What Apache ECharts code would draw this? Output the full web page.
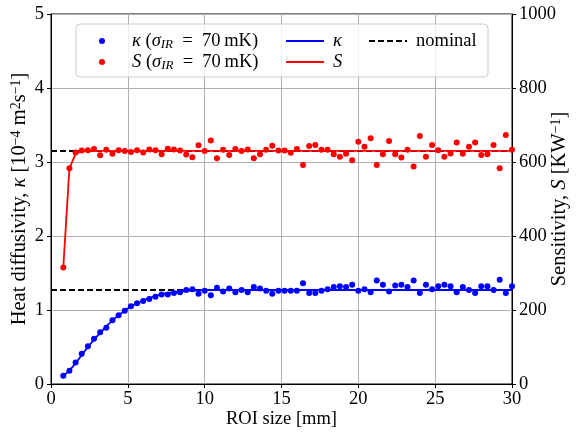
<!DOCTYPE html>
<html lang="en">
<head>
    <meta charset="UTF-8">
    <title>ROI size</title>
    <script src="https://cdn.jsdelivr.net/npm/echarts@6/dist/echarts.min.js"></script>
</head>
<body style="margin:0">
<div id="main" style="width:583px;height:433px;"></div>
<script>
    // ROI size [mm]
    var roiSize = [0.8,1.2,1.6,2.0,2.4,2.8,3.2,3.6,4.0,4.4,4.8,5.2,5.6,6.0,6.4,6.8,7.2,7.6,8.0,8.4,8.8,9.2,
        9.6,10.0,10.4,10.8,11.2,11.6,12.0,12.4,12.8,13.2,13.6,14.0,14.4,14.8,15.2,15.6,16.0,16.4,16.8,17.2,17.6,18.0,18.4,18.8,19.2,19.6,20.0,
        20.4,20.8,21.2,21.6,22.0,22.4,22.8,23.2,23.6,24.0,24.4,24.8,25.2,25.6,26.0,26.4,26.8,27.2,27.6,28.0,28.4,28.8,29.2,29.6,30.0];

    // kappa [1e-4 m2/s], measured points
    var kappaPts = [0.11,0.18,0.29,0.41,0.51,0.61,0.70,0.76,0.86,0.93,0.99,1.05,1.09,1.12,1.15,1.18,1.21,1.21,1.23,1.24,1.27,1.28,
        1.22,1.26,1.20,1.30,1.25,1.29,1.24,1.27,1.24,1.31,1.29,1.26,1.22,1.26,1.26,1.26,1.26,1.36,1.23,1.23,1.26,1.28,1.31,1.32,1.31,1.34,1.26,
        1.28,1.24,1.40,1.34,1.25,1.33,1.34,1.31,1.40,1.23,1.34,1.28,1.32,1.34,1.32,1.24,1.31,1.27,1.23,1.32,1.32,1.27,1.41,1.23,1.32];

    // sensitivity S [K/W], measured points
    var sensPts = [315,583,626,631,632,635,618,633,622,632,630,627,632,626,634,632,621,636,634,631,620,613,645,
        630,658,610,633,619,635,630,634,610,621,633,644,631,631,625,635,592,643,646,633,633,621,614,622,605,655,
        641,664,592,621,657,621,612,633,588,670,614,646,632,614,623,653,622,641,653,619,621,646,583,673,633];

    // fitted curves
    var kappaFitX = [0.8,1.2,1.6,2.0,2.4,2.8,3.2,3.6,4.0,4.4,4.8,5.2,5.6,6.0,6.4,6.8,7.2,7.6,8.0,8.4,8.8,9.6,10.4,30];
    var kappaFitY = [0.11,0.18,0.28,0.39,0.50,0.60,0.69,0.78,0.86,0.93,0.99,1.05,1.09,1.13,1.16,1.19,1.21,1.23,1.24,1.25,1.26,1.265,1.27,1.27];
    var sensFitX = [0.8,1.2,1.6,2.0,30];
    var sensFitY = [315,583,622,630,630];

    // nominal values
    var nominalX = [0, 30];
    var kappaNominal = 1.27;
    var sensNominal = 630;

    var xTicks = [0,5,10,15,20,25,30];

    function pairs(xs, ys) {
        var out = [];
        for (var i = 0; i < xs.length; i++) out.push([xs[i], ys[i]]);
        return out;
    }

    var font = 'Liberation Serif';
    var fs = 18.5;
    var nameFs = 20.5;

    var legendText = {
        kdot: '{i|κ} ({i|σ}{sub|IR}\u2002=\u200270\u2009mK)',
        sdot: '{i|S} ({i|σ}{sub|IR}\u2002=\u200270\u2009mK)',
        kfit: '{i|κ}',
        sfit: '{i|S}',
        nominal: 'nominal'
    };
    function legendStyle(padLeft) {
        return {
            fontFamily: font, fontSize: fs, color: '#000', lineHeight: 20, padding: [0, 0, 0, padLeft],
            rich: {
                i: {fontStyle: 'italic', fontFamily: font, fontSize: fs},
                sub: {fontStyle: 'italic', fontFamily: font, fontSize: 13, verticalAlign: 'bottom', lineHeight: 16}
            }
        };
    }
    function legendFmt(name) { return legendText[name]; }

    function nameStyle() {
        return {fontFamily: font, fontSize: nameFs, color: '#000', lineHeight: 22,
            rich: {
                i: {fontStyle: 'italic', fontFamily: font, fontSize: nameFs},
                sup: {fontFamily: font, fontSize: 14, verticalAlign: 'top', lineHeight: 17}
            }};
    }

    var myChart = echarts.init(document.getElementById('main'));

    var option = {
        animation: false,
        backgroundColor: '#fff',
        textStyle: {fontFamily: font},
        grid: {left: 51, right: 71, top: 14, bottom: 49, outerBoundsMode: 'none',
            show: true, borderColor: '#000', borderWidth: 1},
        graphic: [{
            type: 'rect', z: 50,
            shape: {x: 76, y: 24, width: 412, height: 53, r: 4},
            style: {fill: 'rgba(255,255,255,0.8)', stroke: '#cccccc', lineWidth: 1}
        }],
        legend: [
            {data: ['kdot', 'sdot'], orient: 'vertical', left: 99, top: 31, padding: 0, itemGap: 1,
                itemWidth: 50, itemHeight: 6, icon: 'circle', z: 60,
                formatter: legendFmt, textStyle: legendStyle(0)},
            {data: ['kfit', 'sfit'], orient: 'vertical', left: 285, top: 31, padding: 0, itemGap: 1,
                itemWidth: 38, itemHeight: 14, z: 60,
                itemStyle: {color: 'transparent', borderWidth: 0},
                formatter: legendFmt, textStyle: legendStyle(4)},
            {data: ['nominal'], orient: 'vertical', left: 368, top: 31, padding: 0, itemGap: 1,
                itemWidth: 38, itemHeight: 14, z: 60,
                itemStyle: {color: 'transparent', borderWidth: 0},
                formatter: legendFmt, textStyle: legendStyle(4)}
        ],
        xAxis: {
            type: 'value', min: 0, max: 30, interval: 5,
            name: 'ROI size [mm]', nameLocation: 'middle', nameGap: 26, nameMoveOverlap: false,
            nameTextStyle: {fontFamily: font, fontSize: fs, color: '#000'},
            axisLine: {lineStyle: {color: '#000', width: 1}},
            axisTick: {length: 4, lineStyle: {color: '#000'}},
            axisLabel: {fontFamily: font, fontSize: fs, color: '#000', margin: 6,
                customValues: xTicks},
            splitLine: {show: true, lineStyle: {color: '#b0b0b0', width: 1}}
        },
        yAxis: [{
            type: 'value', min: 0, max: 5, interval: 1, position: 'left',
            name: 'Heat diffusivity, {i|κ} [10{sup|−4} m{sup|2}s{sup|−1}]',
            nameLocation: 'middle', nameGap: 20, nameMoveOverlap: false,
            nameTextStyle: nameStyle(),
            axisLine: {show: true, lineStyle: {color: '#000', width: 1}},
            axisTick: {show: true, length: 4, lineStyle: {color: '#000'}},
            axisLabel: {fontFamily: font, fontSize: fs, color: '#000', margin: 7},
            splitLine: {show: true, lineStyle: {color: '#b0b0b0', width: 1}}
        }, {
            type: 'value', min: 0, max: 1000, interval: 200, position: 'right',
            name: 'Sensitivity, {i|S} [KW{sup|−1}]',
            nameLocation: 'middle', nameGap: 37, nameMoveOverlap: false,
            nameTextStyle: nameStyle(),
            axisLine: {show: true, lineStyle: {color: '#000', width: 1}},
            axisTick: {show: true, length: 4, lineStyle: {color: '#000'}},
            axisLabel: {fontFamily: font, fontSize: fs, color: '#000', margin: 7,
                formatter: function (v) { return String(v); }},
            splitLine: {show: false}
        }],
        series: [
            {name: 'nominal', type: 'line', yAxisIndex: 0, symbol: 'none', z: 2,
                data: pairs(nominalX, [kappaNominal, kappaNominal]),
                lineStyle: {color: '#000', width: 2, type: [6, 3]}, itemStyle: {color: '#000'}},
            {name: 'nominal', type: 'line', yAxisIndex: 1, symbol: 'none', z: 2,
                data: pairs(nominalX, [sensNominal, sensNominal]),
                lineStyle: {color: '#000', width: 2, type: [6, 3]}, itemStyle: {color: '#000'}},
            {name: 'kdot', type: 'scatter', yAxisIndex: 0, symbolSize: 6, z: 3,
                data: pairs(roiSize, kappaPts), itemStyle: {color: '#0000ff', opacity: 1}},
            {name: 'sdot', type: 'scatter', yAxisIndex: 1, symbolSize: 6, z: 3,
                data: pairs(roiSize, sensPts), itemStyle: {color: '#ff0000', opacity: 1}},
            {name: 'kfit', type: 'line', yAxisIndex: 0, symbol: 'none', z: 4,
                data: pairs(kappaFitX, kappaFitY),
                lineStyle: {color: '#0000ff', width: 1.8}, itemStyle: {color: '#0000ff'}},
            {name: 'sfit', type: 'line', yAxisIndex: 1, symbol: 'none', z: 4,
                data: pairs(sensFitX, sensFitY),
                lineStyle: {color: '#ff0000', width: 1.8}, itemStyle: {color: '#ff0000'}}
        ]
    };

    myChart.setOption(option);
</script>
</body>
</html>
